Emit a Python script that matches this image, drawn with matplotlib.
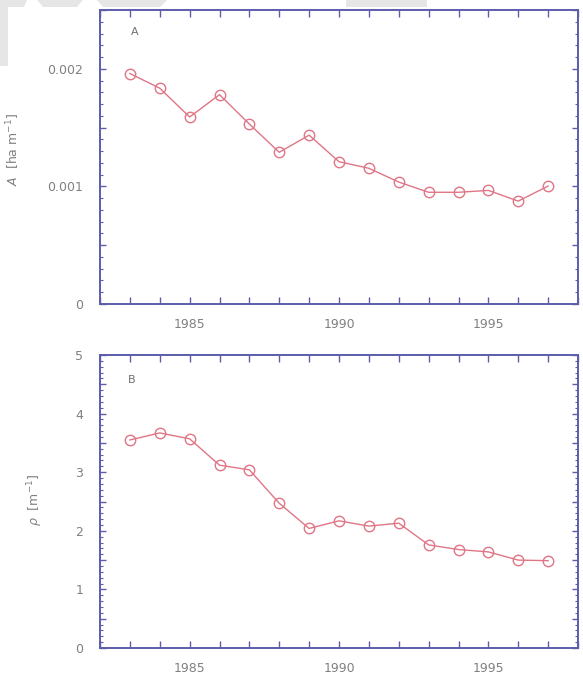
import matplotlib
matplotlib.use("Agg")
import matplotlib.pyplot as plt
from matplotlib.ticker import MultipleLocator, FuncFormatter
from matplotlib.patches import Polygon

years = [1983, 1984, 1985, 1986, 1987, 1988, 1989, 1990, 1991, 1992, 1993, 1994, 1995, 1996, 1997]
A_values = [0.00196, 0.001835, 0.00159, 0.00178, 0.00153, 0.00129, 0.001436, 0.00121, 0.001154,
            0.001037, 0.00095, 0.00095, 0.000966, 0.000875, 0.001003]
rho_values = [3.55, 3.67, 3.57, 3.12, 3.04, 2.47, 2.04, 2.17, 2.08, 2.13, 1.76, 1.68, 1.64, 1.50, 1.49]
top_ylabel = r"$A$  [ha m$^{-1}$]"
bottom_ylabel = r"$\rho$  [m$^{-1}$]"
panel_labels = ["A", "B"]

W, H = 583, 674
fig = plt.figure(figsize=(W / 100, H / 100), dpi=100)

spine_c = "#5c5cab"
text_c = "#808080"
line_c = "#e07585"

# light grey overlay shapes at top of picture
grey = "#e6e6e6"
def px(poly):
    return [(x / W, 1 - y / H) for x, y in poly]
for poly in [
    [(0, 0), (27, 0), (24, 7), (8, 7), (8, 66), (0, 66)],
    [(37, 0), (83, 0), (77, 7), (43, 7)],
    [(97, 0), (167, 0), (160, 7), (103, 7)],
    [(346, 0), (427, 0), (427, 7), (346, 7)],
]:
    fig.patches.append(Polygon(px(poly), closed=True, transform=fig.transFigure,
                               facecolor=grey, edgecolor="none", zorder=0))

ax1 = fig.add_axes([100 / W, 1 - 304 / H, 478 / W, 294 / H])
ax2 = fig.add_axes([100 / W, 1 - 648 / H, 478 / W, 293 / H])

for ax in (ax1, ax2):
    ax.set_facecolor("none")
    for s in ax.spines.values():
        s.set_color(spine_c)
        s.set_linewidth(1.4)
    ax.set_xlim(1982, 1998)
    ax.xaxis.set_major_locator(MultipleLocator(1))
    ax.xaxis.set_major_formatter(FuncFormatter(lambda v, p: f"{int(round(v))}" if round(v) % 5 == 0 else ""))
    ax.tick_params(axis="both", which="both", direction="in", top=True, right=True,
                   color=spine_c, labelcolor=text_c, labelsize=9)
    ax.tick_params(axis="x", which="major", length=5, width=1, pad=10)
    ax.tick_params(axis="y", which="major", length=4, width=1, pad=12)
    ax.tick_params(axis="y", which="minor", length=2, width=0.8)

ax1.plot(years, A_values, color=line_c, lw=1.0, marker="o", ms=7.5,
         mfc="none", mec=line_c, mew=1.0)
ax1.set_ylim(0, 0.0025)
ax1.yaxis.set_major_locator(MultipleLocator(0.0005))
ax1.yaxis.set_minor_locator(MultipleLocator(0.0001))
def fmtA(v, p):
    k = round(v / 0.0005)
    if k % 2:
        return ""
    if k == 0:
        return "0"
    return f"{v:.3f}"
ax1.yaxis.set_major_formatter(FuncFormatter(fmtA))
ax1.set_ylabel(top_ylabel, color=text_c, fontsize=9)
ax1.yaxis.set_label_coords(-0.163, 0.527)
ax1.text(0.073, 0.925, panel_labels[0], transform=ax1.transAxes, color="#707070",
         fontsize=8, ha="center", va="center")

ax2.plot(years, rho_values, color=line_c, lw=1.0, marker="o", ms=7.5,
         mfc="none", mec=line_c, mew=1.0)
ax2.set_ylim(0, 5)
ax2.yaxis.set_major_locator(MultipleLocator(0.5))
ax2.yaxis.set_minor_locator(MultipleLocator(0.1))
ax2.yaxis.set_major_formatter(FuncFormatter(lambda v, p: f"{int(round(v))}" if abs(v - round(v)) < 1e-6 else ""))
ax2.set_ylabel(bottom_ylabel, color=text_c, fontsize=9)
ax2.yaxis.set_label_coords(-0.115, 0.505)
ax2.text(0.067, 0.915, panel_labels[1], transform=ax2.transAxes, color="#707070",
         fontsize=8, ha="center", va="center")

fig.savefig("out.png", dpi=100)
